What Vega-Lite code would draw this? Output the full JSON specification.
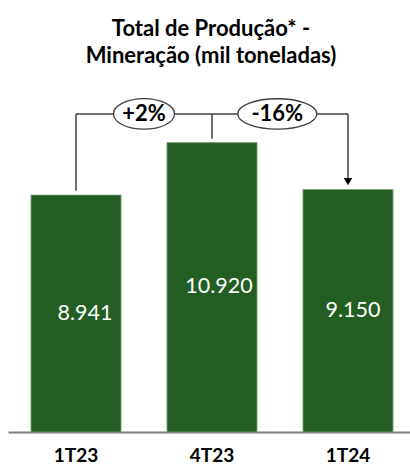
{
  "$schema": "https://vega.github.io/schema/vega-lite/v6.json",
  "autosize": "none",
  "width": 402,
  "height": 357,
  "padding": {"left": 8, "top": 75, "right": 0, "bottom": 33},
  "background": "white",
  "config": {"view": {"stroke": null}, "font": "Lato"},
  "title": {
    "text": ["\u00a0\u00a0\u00a0\u00a0\u00a0\u00a0\u00a0\u00a0\u00a0\u00a0\u00a0\u00a0\u00a0\u00a0\u00a0Total de Produção* -", "Mineração (mil toneladas)"],
    "font": "Lato",
    "fontSize": 22,
    "fontWeight": "bold",
    "color": "black",
    "lineHeight": 27,
    "anchor": "middle",
    "dx": 2,
    "offset": 7
  },
  "datasets": {
    "bars": [
      {"q": "1T23", "v": 8.941, "lbl": "8.941"},
      {"q": "4T23", "v": 10.920, "lbl": "10.920"},
      {"q": "1T24", "v": 9.150, "lbl": "9.150"}
    ],
    "links": [
      {"x1": 1, "x2": 1, "y1": 9.1, "y2": 12},
      {"x1": 2, "x2": 2, "y1": 11.06, "y2": 12},
      {"x1": 3, "x2": 3, "y1": 9.5, "y2": 12},
      {"x1": 1, "x2": 3, "y1": 12, "y2": 12}
    ],
    "arrow": [{"x": 3, "y": 9.45}],
    "pcts": [
      {"x": 1.5, "y": 12, "t": "+2%"},
      {"x": 2.48, "y": 12, "t": "-16%"}
    ]
  },
  "resolve": {"scale": {"x": "independent", "y": "independent"}, "axis": {"x": "independent", "y": "independent"}},
  "layer": [
    {
      "data": {"name": "bars"},
      "mark": {"type": "bar", "color": "#235e22", "stroke": "#7fa07f", "strokeWidth": 0.8},
      "encoding": {
        "x": {"field": "q", "type": "nominal", "sort": null,
              "scale": {"paddingInner": 0.338, "paddingOuter": 0.147, "align": 0.575},
              "axis": {"title": null, "domainColor": "#7f7f7f", "domainWidth": 2, "ticks": false,
                       "labelAngle": 0, "labelFont": "Lato", "labelFontSize": 19, "labelFontWeight": "bold",
                       "labelColor": "black", "labelPadding": 14, "grid": false}},
        "y": {"field": "v", "type": "quantitative", "scale": {"domain": [0, 13.47], "nice": false}, "axis": null}
      }
    },
    {
      "data": {"name": "bars"},
      "mark": {"type": "text", "color": "white", "font": "Lato", "fontSize": 21.5, "baseline": "middle"},
      "encoding": {
        "x": {"field": "q", "type": "nominal", "sort": null,
              "scale": {"paddingInner": 0.338, "paddingOuter": 0.147, "align": 0.575}, "axis": null},
        "y": {"field": "v", "type": "quantitative", "scale": {"domain": [0, 26.94], "nice": false}, "axis": null},
        "text": {"field": "lbl"}
      }
    },
    {
      "data": {"name": "links"},
      "mark": {"type": "rule", "color": "#404040", "strokeWidth": 1.5},
      "encoding": {
        "x": {"field": "x1", "type": "quantitative", "scale": {"domain": [0.5, 3.456], "nice": false, "zero": false}, "axis": null},
        "x2": {"field": "x2"},
        "y": {"field": "y1", "type": "quantitative", "scale": {"domain": [0, 13.47], "nice": false}, "axis": null},
        "y2": {"field": "y2"}
      }
    },
    {
      "data": {"name": "arrow"},
      "mark": {"type": "point", "shape": "triangle-down", "filled": true, "color": "black", "size": 70, "opacity": 1},
      "encoding": {
        "x": {"field": "x", "type": "quantitative", "scale": {"domain": [0.5, 3.456], "nice": false, "zero": false}, "axis": null},
        "y": {"field": "y", "type": "quantitative", "scale": {"domain": [0, 13.47], "nice": false}, "axis": null}
      }
    },
    {
      "data": {"name": "pcts"},
      "transform": [{"filter": "datum.t == '+2%'"}],
      "mark": {"type": "point", "shape": "M -1 0 A 1 0.5 0 1 0 1 0 A 1 0.5 0 1 0 -1 0 Z", "filled": true, "fill": "white", "stroke": "#404040", "strokeWidth": 1.3, "size": 3721, "opacity": 1},
      "encoding": {
        "x": {"field": "x", "type": "quantitative", "scale": {"domain": [0.5, 3.456], "nice": false, "zero": false}, "axis": null},
        "y": {"field": "y", "type": "quantitative", "scale": {"domain": [0, 13.47], "nice": false}, "axis": null}
      }
    },
    {
      "data": {"name": "pcts"},
      "transform": [{"filter": "datum.t == '-16%'"}],
      "mark": {"type": "point", "shape": "M -1 0 A 1 0.385 0 1 0 1 0 A 1 0.385 0 1 0 -1 0 Z", "filled": true, "fill": "white", "stroke": "#404040", "strokeWidth": 1.3, "size": 6241, "opacity": 1},
      "encoding": {
        "x": {"field": "x", "type": "quantitative", "scale": {"domain": [0.5, 3.456], "nice": false, "zero": false}, "axis": null},
        "y": {"field": "y", "type": "quantitative", "scale": {"domain": [0, 13.47], "nice": false}, "axis": null}
      }
    },
    {
      "data": {"name": "pcts"},
      "mark": {"type": "text", "color": "black", "font": "Lato", "fontSize": 22, "fontWeight": "bold", "baseline": "middle"},
      "encoding": {
        "x": {"field": "x", "type": "quantitative", "scale": {"domain": [0.5, 3.456], "nice": false, "zero": false}, "axis": null},
        "y": {"field": "y", "type": "quantitative", "scale": {"domain": [0, 13.47], "nice": false}, "axis": null},
        "text": {"field": "t"}
      }
    }
  ]
}
